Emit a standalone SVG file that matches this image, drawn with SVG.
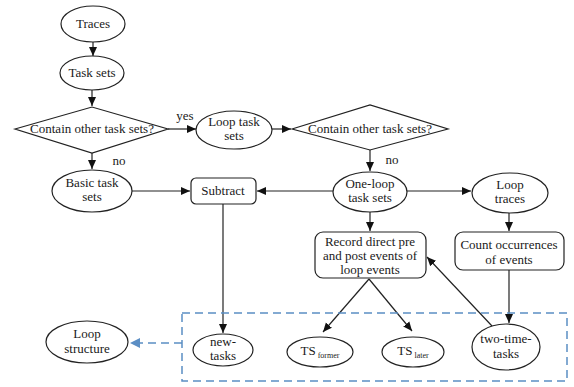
<svg xmlns="http://www.w3.org/2000/svg" width="574" height="387" viewBox="0 0 574 387">
<style>
.n{fill:#fff;stroke:#222;stroke-width:1.2}
text{font-family:"Liberation Serif","Times New Roman",serif;font-size:13px;fill:#1a1a1a;text-anchor:middle}
.s{font-size:8px}
.e{stroke:#222;stroke-width:1.2;fill:none}
.d{stroke:#5b8ec4;stroke-width:1.5;fill:none;stroke-dasharray:8,5}
</style>
<defs>
<marker id="a" markerWidth="10" markerHeight="10" refX="9" refY="5" orient="auto" markerUnits="userSpaceOnUse">
<path d="M0,1 L9,5 L0,9 Z" fill="#111"/>
</marker>
<marker id="b" markerWidth="12" markerHeight="12" refX="10" refY="6" orient="auto" markerUnits="userSpaceOnUse">
<path d="M0,1 L10,6 L0,11 Z" fill="#5b8ec4"/>
</marker>
</defs>
<rect width="574" height="387" fill="#fff"/>
<g id="connectors">
<line class="e" x1="93" y1="42" x2="93" y2="56" marker-end="url(#a)"/>
<line class="e" x1="92" y1="90" x2="92" y2="106" marker-end="url(#a)"/>
<line class="e" x1="168" y1="129" x2="196" y2="129" marker-end="url(#a)"/>
<line class="e" x1="272" y1="129" x2="291" y2="129" marker-end="url(#a)"/>
<line class="e" x1="92" y1="153" x2="92" y2="169" marker-end="url(#a)"/>
<line class="e" x1="370" y1="150" x2="370" y2="171" marker-end="url(#a)"/>
<line class="e" x1="132" y1="191" x2="190" y2="191" marker-end="url(#a)"/>
<line class="e" x1="333" y1="191" x2="257" y2="191" marker-end="url(#a)"/>
<line class="e" x1="407" y1="191" x2="471" y2="191" marker-end="url(#a)"/>
<line class="e" x1="370" y1="212" x2="370" y2="231" marker-end="url(#a)"/>
<line class="e" x1="509" y1="213" x2="509" y2="231" marker-end="url(#a)"/>
<line class="e" x1="223" y1="204" x2="223" y2="333" marker-end="url(#a)"/>
<line class="e" x1="369" y1="279" x2="323" y2="332" marker-end="url(#a)"/>
<line class="e" x1="369" y1="279" x2="412" y2="331" marker-end="url(#a)"/>
<line class="e" x1="509" y1="270" x2="509" y2="323" marker-end="url(#a)"/>
<line class="e" x1="492" y1="326" x2="427" y2="257" marker-end="url(#a)"/>
<rect class="d" x="182" y="313" width="385" height="68"/>
<line class="d" x1="182" y1="343" x2="130" y2="343" marker-end="url(#b)"/>
</g>
<g id="traces"><ellipse class="n" cx="93" cy="24" rx="32" ry="18"/><text x="93" y="28">Traces</text></g>
<g id="task-sets"><ellipse class="n" cx="92" cy="73" rx="32" ry="17"/><text x="92" y="77">Task sets</text></g>
<g id="decision1"><polygon class="n" points="15,129 92,107 168,129 92,153"/><text x="92" y="133">Contain other task sets?</text></g>
<g id="yes-label"><text x="185" y="120">yes</text></g>
<g id="no-label1"><text x="119" y="165">no</text></g>
<g id="loop-task-sets"><ellipse class="n" cx="234" cy="130" rx="38" ry="19"/><text x="234" y="126">Loop task</text><text x="234" y="140">sets</text></g>
<g id="decision2"><polygon class="n" points="292,129 370,105 448,129 370,150"/><text x="370" y="133">Contain other task sets?</text></g>
<g id="no-label2"><text x="392" y="164">no</text></g>
<g id="basic-task-sets"><ellipse class="n" cx="92" cy="191" rx="40" ry="21"/><text x="92" y="187">Basic task</text><text x="92" y="201">sets</text></g>
<g id="subtract"><rect class="n" x="191" y="178" width="65" height="26" rx="5"/><text x="223" y="195">Subtract</text></g>
<g id="one-loop"><ellipse class="n" cx="370" cy="192" rx="37" ry="20"/><text x="370" y="188">One-loop</text><text x="370" y="202">task sets</text></g>
<g id="loop-traces"><ellipse class="n" cx="510" cy="193" rx="38" ry="20"/><text x="510" y="189">Loop</text><text x="510" y="203">traces</text></g>
<g id="record"><rect class="n" x="315" y="232" width="111" height="46" rx="8"/><text x="370" y="246">Record direct pre</text><text x="370" y="260">and post events of</text><text x="370" y="274">loop events</text></g>
<g id="count"><rect class="n" x="455" y="232" width="109" height="38" rx="8"/><text x="509" y="249">Count occurrences</text><text x="509" y="264">of events</text></g>
<g id="loop-structure"><ellipse class="n" cx="87" cy="342" rx="41" ry="21"/><text x="87" y="338">Loop</text><text x="87" y="353">structure</text></g>
<g id="new-tasks"><ellipse class="n" cx="223" cy="350" rx="30" ry="16"/><text x="223" y="346">new-</text><text x="223" y="360">tasks</text></g>
<g id="ts-former"><ellipse class="n" cx="320" cy="352" rx="33" ry="15"/><text x="320" y="355">TS<tspan class="s" dy="3"> former</tspan></text></g>
<g id="ts-later"><ellipse class="n" cx="413" cy="352" rx="31" ry="15"/><text x="413" y="355">TS<tspan class="s" dy="3"> later</tspan></text></g>
<g id="two-time-tasks"><ellipse class="n" cx="506" cy="347" rx="34" ry="23"/><text x="506" y="343">two-time-</text><text x="506" y="358">tasks</text></g>
</svg>
